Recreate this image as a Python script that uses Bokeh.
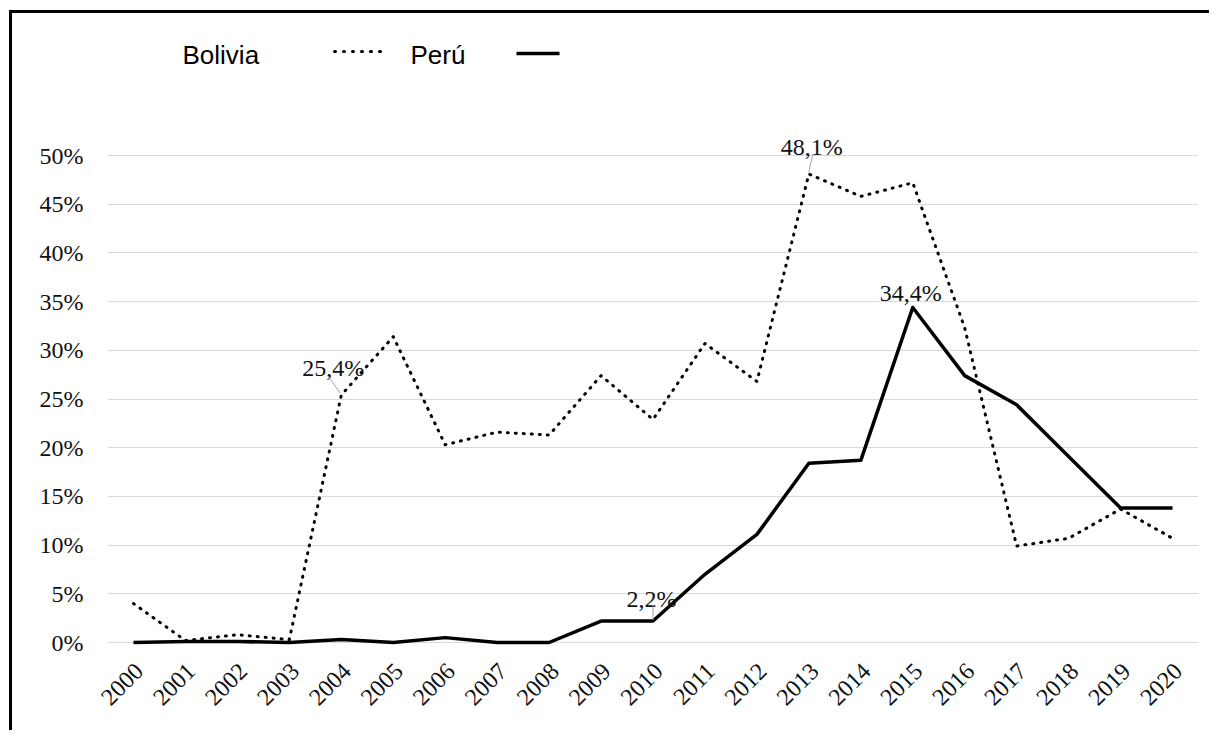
from bokeh.plotting import figure
from bokeh.models import Range1d, FixedTicker, Label, Arrow, LinearAxis
from bokeh.core.properties import value
from bokeh.embed import file_html
from bokeh.resources import INLINE

# ---- data ----
years = list(range(2000, 2021))
year_labels = [str(y) for y in years]
bolivia = [4.0, 0.2, 0.8, 0.3, 25.4, 31.4, 20.3, 21.6, 21.3, 27.4, 22.9,
           30.7, 26.8, 48.1, 45.8, 47.2, 32.3, 9.9, 10.7, 13.7, 10.7]
peru = [0.0, 0.1, 0.1, 0.0, 0.3, 0.0, 0.5, 0.0, 0.0, 2.2, 2.2,
        7.0, 11.1, 18.4, 18.7, 34.4, 27.4, 24.4, 19.1, 13.8, 13.8]
y_ticks = [0, 5, 10, 15, 20, 25, 30, 35, 40, 45, 50]
y_tick_labels = [f"{t}%" for t in y_ticks]
series_names = ["Bolivia", "Perú"]
# annotated points: (series, year)
annotated = [("Bolivia", 2004), ("Bolivia", 2013), ("Perú", 2015), ("Perú", 2010)]

# ---- layout (canvas px) ----
BORDER = 3
MARGIN_L, MARGIN_T = 9, 10
W, H = 1200, 720
FL, FR, FT, FB = 95, 14, 0, 87
FW, FH = W - FL - FR, H - FT - FB
PXY = 9.74           # px per 1 %
ZERO_ABOVE = 4       # px between frame bottom and 0 % line
X0, X1 = 1999.5, 2020.5
Y0 = -ZERO_ABOVE / PXY
Y1 = Y0 + FH / PXY
PXX = FW / (X1 - X0)


def cx(px):  # canvas x -> data x
    return X0 + (px - FL) / PXX


def cy(py):  # canvas y -> data y
    return Y0 + ((H - FB) - py) / PXY


p = figure(width=W, height=H, output_backend="svg", toolbar_location=None, title=None,
           x_range=Range1d(X0, X1), y_range=Range1d(Y0, Y1),
           min_border_left=FL, min_border_right=FR,
           min_border_top=FT, min_border_bottom=FB,
           background_fill_color="white", border_fill_color="white",
           x_axis_location=None)
p.styles = {"border-left": f"{BORDER}px solid black",
            "border-top": f"{BORDER}px solid black",
            "margin-left": f"{MARGIN_L}px", "margin-top": f"{MARGIN_T}px"}
p.outline_line_color = None
p.xgrid.visible = False
p.ygrid.ticker = FixedTicker(ticks=y_ticks)
p.ygrid.grid_line_color = "#d9d9d9"
p.ygrid.grid_line_width = 1

SERIF = "Liberation Serif"
SANS = "Liberation Sans"
TXT = "#111111"

# x axis on a slightly shifted range so rotated labels end just right of each year
SHIFT = 6 / PXX
p.extra_x_ranges = {"lab": Range1d(X0 - SHIFT, X1 - SHIFT)}
xax = LinearAxis(x_range_name="lab")
p.add_layout(xax, "below")

p.yaxis.ticker = FixedTicker(ticks=y_ticks)
p.yaxis.major_label_overrides = {t: l for t, l in zip(y_ticks, y_tick_labels)}
xax.ticker = FixedTicker(ticks=years)
xax.major_label_overrides = {y: l for y, l in zip(years, year_labels)}
xax.major_label_orientation = 0.785398
for ax in (xax, p.yaxis[0]):
    ax.axis_line_color = None
    ax.major_tick_line_color = None
    ax.minor_tick_line_color = None
    ax.major_tick_out = 0
    ax.major_tick_in = 0
    ax.major_label_text_font = SERIF
    ax.major_label_text_font_size = "24px"
    ax.major_label_text_color = TXT
p.yaxis.major_label_standoff = 24
xax.major_label_standoff = 21

# ---- series ----
p.line(years, bolivia, line_color="black", line_width=3, line_dash="1 7",
       line_cap="round", line_join="round")
p.line(years, peru, line_color="black", line_width=3.5, line_join="round")

# ---- data labels with leader lines ----
series_vals = {"Bolivia": bolivia, "Perú": peru}
label_off = {("Bolivia", 2004): (-8, 27), ("Bolivia", 2013): (3, 27),
             ("Perú", 2015): (-2, 14), ("Perú", 2010): (-1.5, 22)}
leader = {("Bolivia", 2004): ((-14, 20), (-1, 2)),
          ("Bolivia", 2013): ((4, 20), (0, 2)),
          ("Perú", 2010): ((0, 16), (0, 1))}
for key in annotated:
    s, yr = key
    v = series_vals[s][years.index(yr)]
    txt = f"{v:.1f}".replace(".", ",") + "%"
    dx, dy = label_off[key]
    p.add_layout(Label(x=yr, y=v, text=txt, x_offset=dx, y_offset=dy,
                       text_align="center", text_baseline="alphabetic",
                       text_font=SERIF, text_font_size="24px", text_color=TXT))
    if key in leader:
        (sx, sy), (ex, ey) = leader[key]
        p.add_layout(Arrow(end=None, x_start=yr + sx / PXX, y_start=v + sy / PXY,
                           x_end=yr + ex / PXX, y_end=v + ey / PXY,
                           line_color="#a6a6a6", line_width=1))

# ---- legend (label first, then sample), placed by canvas px ----
p.text(x=[cx(170), cx(398)], y=[cy(41), cy(41)], text=series_names,
       text_font=value(SANS), text_font_size="26px", text_color="black",
       text_baseline="alphabetic", text_align="left")
p.line([cx(322), cx(368)], [cy(38), cy(38)], line_color="black", line_width=3,
       line_dash="1 8", line_cap="round")
p.line([cx(504), cx(547)], [cy(40), cy(40)], line_color="black", line_width=3.5)

open("out.html", "w").write(file_html(p, INLINE))
